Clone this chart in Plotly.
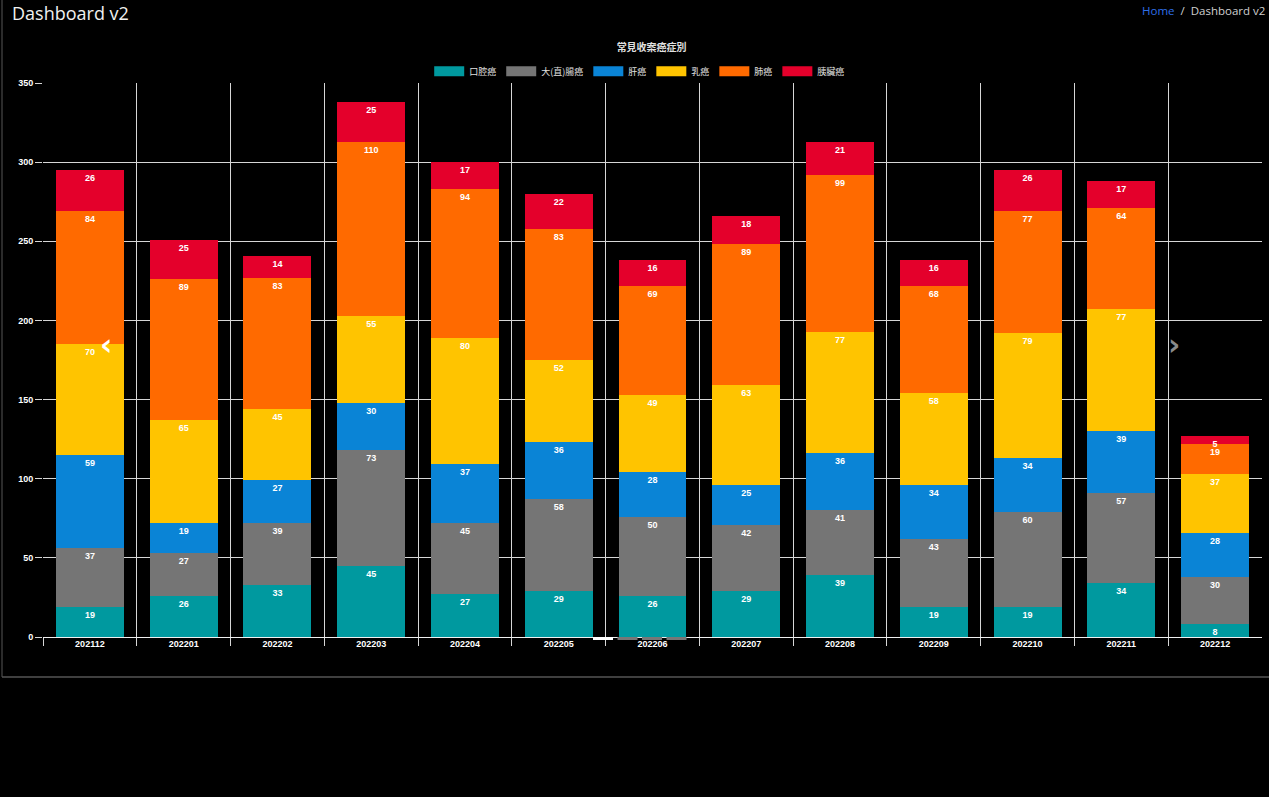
import plotly.graph_objects as go

months = ["202112", "202201", "202202", "202203", "202204", "202205", "202206",
          "202207", "202208", "202209", "202210", "202211", "202212"]
series_names = ["口腔癌", "大(直)腸癌", "肝癌", "乳癌", "肺癌", "胰臟癌"]
oral = [19, 26, 33, 45, 27, 29, 26, 29, 39, 19, 19, 34, 8]
colorectal = [37, 27, 39, 73, 45, 58, 50, 42, 41, 43, 60, 57, 30]
liver = [59, 19, 27, 30, 37, 36, 28, 25, 36, 34, 34, 39, 28]
breast = [70, 65, 45, 55, 80, 52, 49, 63, 77, 58, 79, 77, 37]
lung = [84, 89, 83, 110, 94, 83, 69, 89, 99, 68, 77, 64, 19]
pancreas = [26, 25, 14, 25, 17, 22, 16, 18, 21, 16, 26, 17, 5]
y_ticks = [0, 50, 100, 150, 200, 250, 300, 350]

series_values = [oral, colorectal, liver, breast, lung, pancreas]
colors = ["#00999f", "#757575", "#0a84d6", "#ffc400", "#ff6a00", "#e4002b"]

xs = list(range(len(months)))
font_family = "Liberation Sans, Arial, sans-serif"
cjk = "Noto Sans CJK TC, Liberation Sans, sans-serif"

fig = go.Figure()
for name, vals, col in zip(series_names, series_values, colors):
    fig.add_trace(go.Bar(
        x=xs, y=vals, name=name, legendgroup=name, showlegend=False,
        marker=dict(color=col, line=dict(width=0)),
        text=[f"<b>{v}</b>" for v in vals],
        textposition="inside", insidetextanchor="end",
        constraintext="none", textangle=0,
        textfont=dict(color="#ffffff", size=9, family=font_family),
        hoverinfo="x+y+name",
    ))
# legend proxies: wide colour boxes like the original legend
for name, col in zip(series_names, colors):
    fig.add_trace(go.Scatter(
        x=[None], y=[None], name=name, legendgroup=name, mode="lines",
        line=dict(color=col, width=10), showlegend=True, hoverinfo="skip",
    ))

grid_col = "#d6d6d6"
fig.update_layout(
    barmode="stack",
    bargap=0.275,
    width=1269, height=797,
    margin=dict(l=43, r=7, t=83, b=160),
    paper_bgcolor="#000000",
    plot_bgcolor="#000000",
    font=dict(family=font_family, color="#ffffff", size=9),
    title=dict(text="<b>常見收案癌症別</b>", x=0.5135, xanchor="center",
               y=1 - 47 / 797, yanchor="middle",
               font=dict(family=cjk, size=10, color="#e0e0e0")),
    legend=dict(orientation="h", x=0.4895, xanchor="center", y=0.995, yanchor="bottom",
                font=dict(family=cjk, size=9, color="#e0e0e0"),
                bgcolor="rgba(0,0,0,0)", traceorder="normal",
                itemwidth=30),
    xaxis=dict(
        range=[-0.5, len(months) - 0.5],
        tickmode="array", tickvals=xs, ticktext=[f"<b>{m}</b>" for m in months],
        showgrid=False, zeroline=False, ticks="",
        tickfont=dict(size=9, color="#ffffff", family=font_family),
        minor=dict(tickvals=[i - 0.5 for i in xs], showgrid=True, gridcolor=grid_col,
                   gridwidth=1, ticks="outside", ticklen=8, tickcolor=grid_col, tickwidth=1),
        fixedrange=True,
    ),
    yaxis=dict(
        range=[0, 350], tickmode="array", tickvals=y_ticks,
        ticktext=[f"<b>{t}</b>" for t in y_ticks],
        showgrid=True, gridcolor=grid_col, gridwidth=1,
        zeroline=True, zerolinecolor="#f0f0f0", zerolinewidth=1,
        ticks="outside", ticklen=7, tickcolor=grid_col,
        tickfont=dict(size=9, color="#ffffff", family=font_family),
        fixedrange=True,
    ),
    showlegend=True,
)

# card border (left and bottom)
pw, ph = 1269 - 43 - 7, 797 - 83 - 160
def px(x): return (x - 43) / pw
def py(y): return (797 - 160 - y) / ph
fig.add_shape(type="line", xref="paper", yref="paper", x0=px(2), x1=px(2), y0=py(0), y1=py(677),
              line=dict(color="#3a3a3a", width=1.5))
fig.add_shape(type="line", xref="paper", yref="paper", x0=px(2), x1=px(1269), y0=py(677), y1=py(677),
              line=dict(color="#555555", width=1.5))
# carousel indicators
for i, c in enumerate(["#ffffff", "#777777", "#777777", "#777777"]):
    x0 = 593 + i * 24.5
    fig.add_shape(type="rect", xref="paper", yref="paper", x0=px(x0), x1=px(x0 + 20),
                  y0=py(640), y1=py(637), line=dict(width=0), fillcolor=c, layer="above")

# header texts
fig.add_annotation(text="Dashboard v2", xref="paper", yref="paper", x=px(10), y=py(13),
                   xanchor="left", yanchor="middle", showarrow=False,
                   font=dict(family="Segoe UI, Open Sans, sans-serif", size=18, color="#f0f0f0"))
fig.add_annotation(text="<span style='color:#2f6fe8'>Home</span>  /  Dashboard v2",
                   xref="paper", yref="paper", x=px(1267), y=py(11),
                   xanchor="right", yanchor="middle", showarrow=False,
                   font=dict(family="Open Sans, sans-serif", size=11.5, color="#d0d0d0"))
# carousel arrows
fig.add_annotation(text="<b>‹</b>", xref="paper", yref="paper", x=px(106), y=py(345),
                   xanchor="center", yanchor="middle", showarrow=False,
                   font=dict(family="DejaVu Sans", size=30, color="#ffffff"))
fig.add_annotation(text="<b>›</b>", xref="paper", yref="paper", x=px(1174), y=py(345),
                   xanchor="center", yanchor="middle", showarrow=False,
                   font=dict(family="DejaVu Sans", size=30, color="#8a8a8a"))

fig.write_html("out.html")
